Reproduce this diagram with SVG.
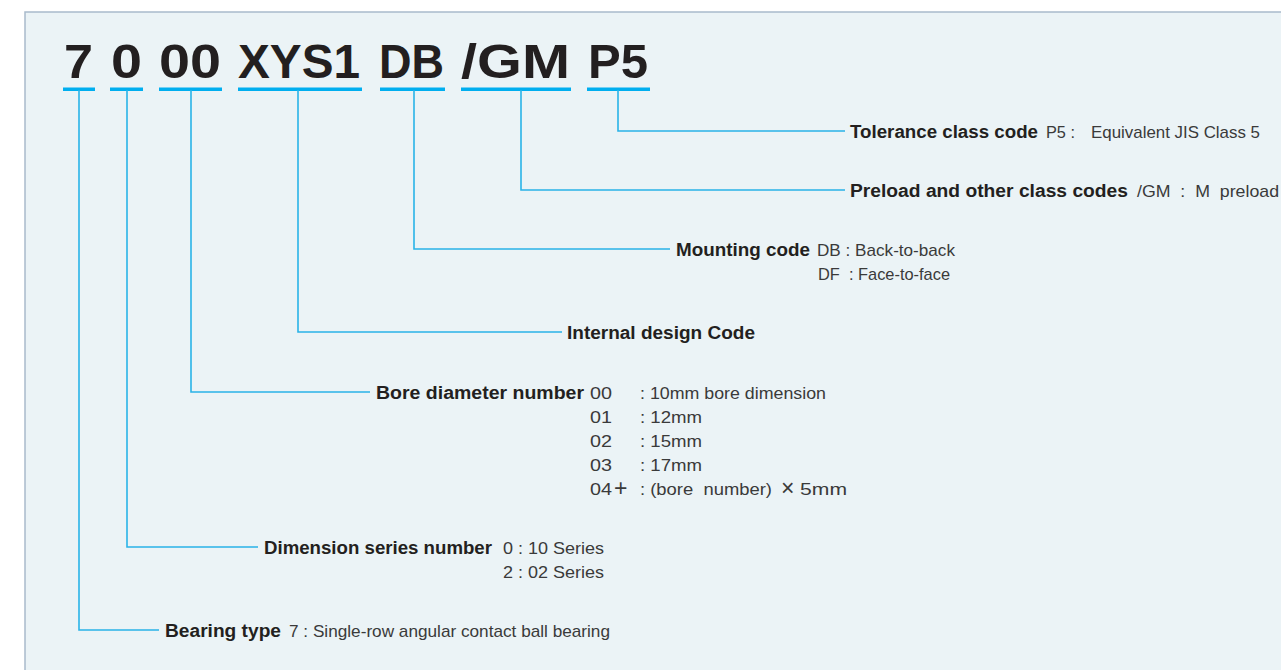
<svg xmlns="http://www.w3.org/2000/svg" width="1281" height="670" viewBox="0 0 1281 670">
<style>
.panel{fill:#ebf3f6;stroke:#a9bacb;stroke-width:1.5}
.t{font-family:"Liberation Sans",Arial,sans-serif;font-weight:700;font-size:48px;fill:#231f20}
.ul{fill:#00aeef}
.c{fill:none;stroke:#2ab3e8;stroke-width:1.6}
.b{font-family:"Liberation Sans",Arial,sans-serif;font-weight:700;font-size:18px;fill:#231f20}
.r{font-family:"Liberation Sans",Arial,sans-serif;font-size:17px;fill:#3a3a3a;white-space:pre}
</style>
<rect x="0" y="0" width="1281" height="670" fill="#ffffff"/>
<rect class="panel" x="25" y="12" width="1270" height="670"/>

<g id="code">
<text class="t" x="64" y="78" textLength="29" lengthAdjust="spacingAndGlyphs">7</text>
<text class="t" x="111" y="78" textLength="31" lengthAdjust="spacingAndGlyphs">0</text>
<text class="t" x="159" y="78" textLength="62" lengthAdjust="spacingAndGlyphs">00</text>
<text class="t" x="238" y="78" textLength="122" lengthAdjust="spacingAndGlyphs">XYS1</text>
<text class="t" x="379" y="78" textLength="65" lengthAdjust="spacingAndGlyphs">DB</text>
<text class="t" x="461" y="78" textLength="109" lengthAdjust="spacingAndGlyphs">/GM</text>
<text class="t" x="588" y="78" textLength="60" lengthAdjust="spacingAndGlyphs">P5</text>
<rect class="ul" x="63" y="87.5" width="32" height="3.5"/>
<rect class="ul" x="110" y="87.5" width="33" height="3.5"/>
<rect class="ul" x="159" y="87.5" width="63" height="3.5"/>
<rect class="ul" x="238" y="87.5" width="124" height="3.5"/>
<rect class="ul" x="380" y="87.5" width="65" height="3.5"/>
<rect class="ul" x="461" y="87.5" width="110" height="3.5"/>
<rect class="ul" x="587" y="87.5" width="63" height="3.5"/>
</g>

<g id="connectors">
<polyline class="c" points="618,90 618,131 845,131"/>
<polyline class="c" points="521,90 521,190 845,190"/>
<polyline class="c" points="414,90 414,249 670,249"/>
<polyline class="c" points="298,90 298,332 562,332"/>
<polyline class="c" points="191,90 191,392 370,392"/>
<polyline class="c" points="127,90 127,547 258,547"/>
<polyline class="c" points="79,90 79,630 159,630"/>
</g>

<g id="tolerance">
<text class="b" x="850" y="138" textLength="188" lengthAdjust="spacingAndGlyphs">Tolerance class code</text>
<text class="r" x="1046" y="138" textLength="29" lengthAdjust="spacingAndGlyphs">P5 :</text>
<text class="r" x="1091" y="138" textLength="169" lengthAdjust="spacingAndGlyphs">Equivalent JIS Class 5</text>
</g>

<g id="preload">
<text class="b" x="850" y="197" textLength="278" lengthAdjust="spacingAndGlyphs">Preload and other class codes</text>
<text class="r" x="1137" y="197" textLength="142" lengthAdjust="spacingAndGlyphs">/GM  :  M  preload</text>
</g>

<g id="mounting">
<text class="b" x="676" y="256" textLength="134" lengthAdjust="spacingAndGlyphs">Mounting code</text>
<text class="r" x="817" y="256" textLength="138" lengthAdjust="spacingAndGlyphs">DB : Back-to-back</text>
<text class="r" x="818" y="280" textLength="132" lengthAdjust="spacingAndGlyphs">DF  : Face-to-face</text>
</g>

<g id="internal">
<text class="b" x="567" y="339" textLength="188" lengthAdjust="spacingAndGlyphs">Internal design Code</text>
</g>

<g id="bore">
<text class="b" x="376" y="399" textLength="208" lengthAdjust="spacingAndGlyphs">Bore diameter number</text>
<text class="r" x="590" y="399" textLength="22" lengthAdjust="spacingAndGlyphs">00</text>
<text class="r" x="640" y="399" textLength="186" lengthAdjust="spacingAndGlyphs">: 10mm bore dimension</text>
<text class="r" x="590" y="423" textLength="22" lengthAdjust="spacingAndGlyphs">01</text>
<text class="r" x="640" y="423" textLength="62" lengthAdjust="spacingAndGlyphs">: 12mm</text>
<text class="r" x="590" y="447" textLength="22" lengthAdjust="spacingAndGlyphs">02</text>
<text class="r" x="640" y="447" textLength="62" lengthAdjust="spacingAndGlyphs">: 15mm</text>
<text class="r" x="590" y="471" textLength="22" lengthAdjust="spacingAndGlyphs">03</text>
<text class="r" x="640" y="471" textLength="62" lengthAdjust="spacingAndGlyphs">: 17mm</text>
<text class="r" x="590" y="495" textLength="22" lengthAdjust="spacingAndGlyphs">04</text>
<text class="r" x="614" y="496" style="font-size:23px">+</text>
<text class="r" x="640" y="495" textLength="132" lengthAdjust="spacingAndGlyphs">: (bore  number)</text>
<text class="r" x="781" y="496" style="font-size:23px">×</text>
<text class="r" x="800" y="495" textLength="47" lengthAdjust="spacingAndGlyphs">5mm</text>
</g>

<g id="dimension">
<text class="b" x="264" y="554" textLength="228" lengthAdjust="spacingAndGlyphs">Dimension series number</text>
<text class="r" x="503" y="554" textLength="101" lengthAdjust="spacingAndGlyphs">0 : 10 Series</text>
<text class="r" x="503" y="578" textLength="101" lengthAdjust="spacingAndGlyphs">2 : 02 Series</text>
</g>

<g id="bearing">
<text class="b" x="165" y="637" textLength="116" lengthAdjust="spacingAndGlyphs">Bearing type</text>
<text class="r" x="289" y="637" textLength="321" lengthAdjust="spacingAndGlyphs">7 : Single-row angular contact ball bearing</text>
</g>
</svg>
